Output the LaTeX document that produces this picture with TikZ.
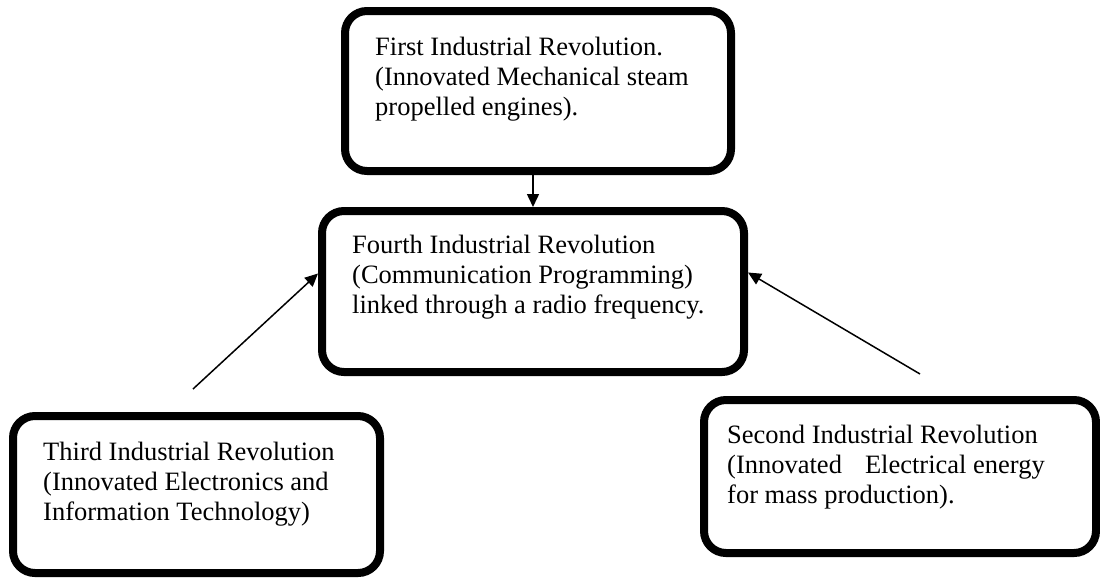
\documentclass[tikz,border=0pt]{standalone}
\usepackage{fontspec}
\setmainfont{Liberation Serif}
\usetikzlibrary{positioning,arrows.meta}

\tikzset{
  stage/.style={draw=black, line width=8pt, rounded corners=22pt, anchor=north west, inner sep=0pt},
  stagetext/.style={inner sep=0pt, align=left, font=\fontsize{26.5}{30}\selectfont},
  link/.style={line width=1.5pt, -{Triangle[length=13pt,width=12pt]}}
}

\begin{document}
\begin{tikzpicture}[x=1pt,y=-1pt]
\useasboundingbox (0,0) rectangle (1100,579);

% revolution boxes
\node[stage, minimum width=386pt, minimum height=160pt] (first) at (341,7) {};
\node[stage, minimum width=422pt, minimum height=161pt] (fourth) at (318,207) {};
\node[stage, minimum width=367pt, minimum height=157pt] (third) at (9,412) {};
\node[stage, minimum width=392pt, minimum height=153pt] (second) at (700,396) {};

\node[stagetext, below right=30pt and 34pt of first.north west] (firsttxt)
  {First Industrial Revolution.\\(Innovated Mechanical steam\\propelled engines).};
\node[stagetext, below right=28pt and 34pt of fourth.north west] (fourthtxt)
  {Fourth Industrial Revolution\\(Communication Programming)\\linked through a radio frequency.};
\node[stagetext, below right=30pt and 34pt of third.north west] (thirdtxt)
  {Third Industrial Revolution\\(Innovated Electronics and\\Information Technology)};
\node[stagetext, below right=29pt and 27pt of second.north west] (secondtxt)
  {Second Industrial Revolution\\(Innovated\hspace{0.87em}Electrical energy\\for mass production).};

% arrows into the fourth revolution
\coordinate (tail3) at (193,389);
\coordinate (tail2) at (920,374);
\draw[link] (fourth.north |- first.south) -- (fourth.north);
\draw[link] (tail3) -- ([yshift=18pt]fourth.west);
\draw[link] (tail2) -- ([yshift=19pt]fourth.east);
\end{tikzpicture}
\end{document}
